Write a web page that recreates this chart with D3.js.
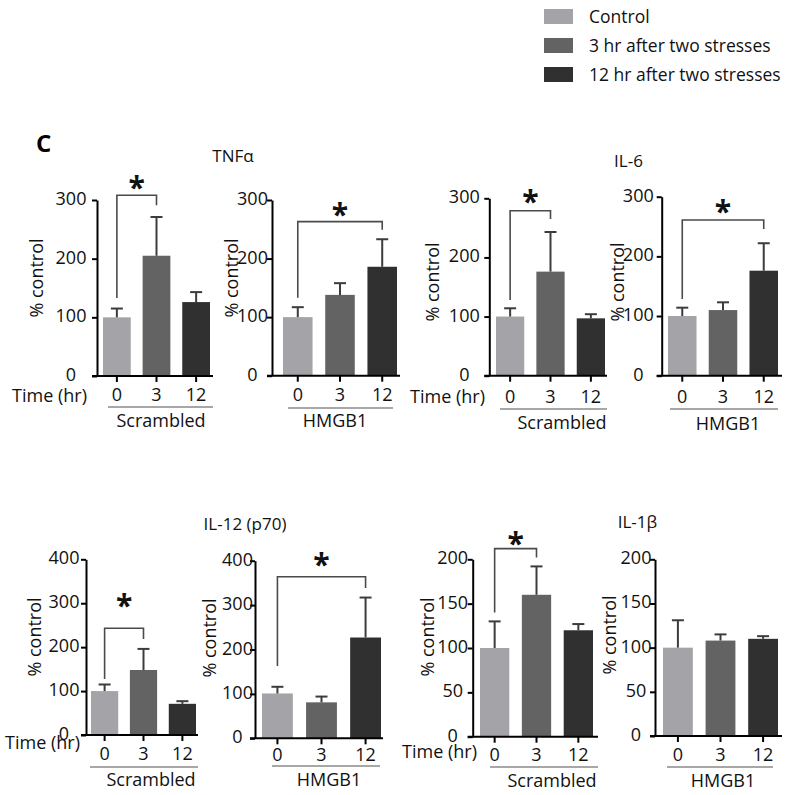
<!DOCTYPE html>
<html>
<head>
<meta charset="utf-8">
<script src="https://cdn.jsdelivr.net/npm/d3@7"></script>
<style>
  html, body { margin: 0; padding: 0; background: #fff; }
  svg { display: block; font-family: "Open Sans", "Liberation Sans", sans-serif; }
</style>
</head>
<body>
<svg id="chart" width="800" height="795"></svg>
<script>
// ---------- DATA ----------
const times = ["0", "3", "12"];
const groups = ["Scrambled", "HMGB1"];
const cytokines = ["TNFα", "IL-6", "IL-12 (p70)", "IL-1β"];
const legendLabels = ["Control", "3 hr after two stresses", "12 hr after two stresses"];

const tnfScrambled = [100, 205, 126];
const tnfScrambledErr = [15, 66, 17];
const tnfHmgb1 = [100, 138, 186];
const tnfHmgb1Err = [17, 20, 47];

const il6Scrambled = [100, 176, 97];
const il6ScrambledErr = [14, 67, 7];
const il6Hmgb1 = [100, 110, 176];
const il6Hmgb1Err = [14, 13, 46];

const il12Scrambled = [100, 148, 71];
const il12ScrambledErr = [15, 48, 6];
const il12Hmgb1 = [101, 81, 227];
const il12Hmgb1Err = [15, 13, 90];

const il1bScrambled = [100, 160, 120];
const il1bScrambledErr = [30, 32, 7];
const il1bHmgb1 = [100, 108, 110];
const il1bHmgb1Err = [31, 7, 3];

const tnfTicks = [0, 100, 200, 300];
const il6Ticks = [0, 100, 200, 300];
const il12Ticks = [0, 100, 200, 300, 400];
const il1bTicks = [0, 50, 100, 150, 200];

// significance comparisons: [from index, to index] or null
const tnfSig = [[0, 1], [0, 2]];
const il6Sig = [[0, 1], [0, 2]];
const il12Sig = [[0, 1], [0, 2]];
const il1bSig = [[0, 1], null];

// ---------- STYLE / LAYOUT ----------
const colors = ["#a4a4a8", "#636363", "#303030"];
const svg = d3.select("#chart");
const FONT = 18;

const panels = [
  { vals: tnfScrambled, err: tnfScrambledErr, ticks: tnfTicks, sig: tnfSig[0], group: 0,
    ax: 97, yTop: 200, y0: 376, r0: 103, r1: 210, xEnd: 213, tlo: 26,
    yl: [37, 278], time: [87, 396], tickY: 395, ul: [407, 108, 213], gl: [161, 421],
    br: [308, 133, 291], astOff: 12 },
  { vals: tnfHmgb1, err: tnfHmgb1Err, ticks: tnfTicks, sig: tnfSig[1], group: 1,
    ax: 272, yTop: 200, y0: 375.7, r0: 283, r1: 397, xEnd: 400, tlo: 19.5,
    yl: [232, 278], time: null, tickY: 395, ul: [408, 288, 393], gl: [335, 421],
    br: [263, 133, 249], astOff: 12 },
  { vals: il6Scrambled, err: il6ScrambledErr, ticks: il6Ticks, sig: il6Sig[0], group: 0,
    ax: 489.3, yTop: 198.3, y0: 375.7, r0: 496, r1: 605, xEnd: 607, tlo: 25,
    yl: [433, 282], time: [485, 397], tickY: 397, ul: [409, 500, 607], gl: [562, 423],
    br: [279, 128, 265], astOff: 14 },
  { vals: il6Hmgb1, err: il6Hmgb1Err, ticks: il6Ticks, sig: il6Sig[1], group: 1,
    ax: 661.7, yTop: 196.7, y0: 375.7, r0: 668, r1: 778, xEnd: 782, tlo: 23.4,
    yl: [618, 282], time: null, tickY: 397, ul: [409, 670, 778], gl: [728, 424],
    br: [261, 128.5, 246], astOff: 13 },
  { vals: il12Scrambled, err: il12ScrambledErr, ticks: il12Ticks, sig: il12Sig[0], group: 0,
    ax: 86, yTop: 559.3, y0: 735, r0: 91, r1: 196, xEnd: 198, tlo: 22,
    yl: [35, 637], time: [80, 743], tickY: 753.5, ul: [767, 90, 198], gl: [151, 780],
    br: [243, 127.5, 218.5], astOff: 27 },
  { vals: il12Hmgb1, err: il12Hmgb1Err, ticks: il12Ticks, sig: il12Sig[1], group: 1,
    ax: 255, yTop: 560.7, y0: 738.3, r0: 262, r1: 381, xEnd: 383, tlo: 17.5,
    yl: [210, 638], time: null, tickY: 755, ul: [766, 272, 380], gl: [329, 780],
    br: [364, 163, 338.6], astOff: 17 },
  { vals: il1bScrambled, err: il1bScrambledErr, ticks: il1bTicks, sig: il1bSig[0], group: 0,
    ax: 472.7, yTop: 559.3, y0: 736.7, r0: 480, r1: 593, xEnd: 598, tlo: 20,
    yl: [428, 637], time: [477, 752], tickY: 755, ul: [767, 490, 598], gl: [552, 781],
    br: [212, 140, 202], astOff: 10 },
  { vals: il1bHmgb1, err: il1bHmgb1Err, ticks: il1bTicks, sig: il1bSig[1], group: 1,
    ax: 655, yTop: 559.3, y0: 736, r0: 663, r1: 778, xEnd: 782, tlo: 19,
    yl: [610, 635], time: null, tickY: 755, ul: [767, 667, 773], gl: [723, 781],
    br: null, astOff: 0 }
];

const titles = [
  { text: cytokines[0], x: 233, y: 156 },
  { text: cytokines[1], x: 628.5, y: 161 },
  { text: cytokines[2], x: 245, y: 524 },
  { text: cytokines[3], x: 637.5, y: 522 }
];

// ---------- LEGEND ----------
const legend = svg.append("g");
legendLabels.forEach((lab, i) => {
  const cy = 16.5 + i * 29;
  legend.append("rect").attr("x", 544).attr("y", cy - 7.5).attr("width", 29).attr("height", 15)
    .attr("fill", colors[i]);
  legend.append("text").attr("x", 589).attr("y", cy + 6).attr("font-size", 17.5)
    .attr("fill", "#111").text(lab);
});

// Panel letter
svg.append("text").attr("x", 36).attr("y", 152).attr("font-size", 24).attr("font-weight", "bold")
  .attr("fill", "#000").text("C");

// Titles
titles.forEach(t => {
  svg.append("text").attr("x", t.x).attr("y", t.y + 6).attr("text-anchor", "middle")
    .attr("font-size", 17).attr("fill", "#111").text(t.text);
});

// ---------- PANELS ----------
panels.forEach(p => {
  const g = svg.append("g");
  const ymax = p.ticks[p.ticks.length - 1];
  const y = d3.scaleLinear().domain([0, ymax]).range([p.y0, p.yTop]);
  const x = d3.scaleBand().domain(times).range([p.r0, p.r1]).paddingInner(0.3).paddingOuter(0);
  const cx = i => x(times[i]) + x.bandwidth() / 2;

  // bars
  g.selectAll("rect.bar").data(p.vals).join("rect")
    .attr("class", "bar")
    .attr("x", (d, i) => x(times[i]))
    .attr("width", x.bandwidth())
    .attr("y", d => y(d))
    .attr("height", d => p.y0 - y(d))
    .attr("fill", (d, i) => colors[i]);

  // error bars (upper only)
  p.vals.forEach((v, i) => {
    const top = y(v + p.err[i]);
    g.append("line").attr("x1", cx(i)).attr("x2", cx(i)).attr("y1", y(v)).attr("y2", top)
      .attr("stroke", "#3c3c3c").attr("stroke-width", 2);
    g.append("line").attr("x1", cx(i) - 6).attr("x2", cx(i) + 6).attr("y1", top).attr("y2", top)
      .attr("stroke", "#3c3c3c").attr("stroke-width", 2);
  });

  // y axis
  const yAxis = d3.axisLeft(y).tickValues(p.ticks).tickSize(5).tickSizeOuter(0).tickFormat(d3.format("d"));
  const yg = g.append("g").attr("transform", `translate(${p.ax},0)`).call(yAxis);
  yg.select(".domain").attr("stroke", "#000").attr("stroke-width", 2);
  yg.selectAll(".tick line").attr("stroke", "#000").attr("stroke-width", 2);
  yg.selectAll(".tick text").attr("x", -p.tlo).attr("dy", null).attr("y", 4.5)
    .attr("text-anchor", "middle").attr("font-size", FONT).attr("fill", "#111")
    .attr("font-family", "Open Sans, Liberation Sans, sans-serif");

  // x axis
  const xAxis = d3.axisBottom(x).tickSize(6).tickSizeOuter(0);
  const xg = g.append("g").attr("transform", `translate(0,${p.y0})`).call(xAxis);
  xg.select(".domain").remove();
  xg.selectAll(".tick line").attr("stroke", "#000").attr("stroke-width", 2);
  xg.selectAll(".tick text").attr("dy", null).attr("y", p.tickY - p.y0 + 6.4)
    .attr("font-size", FONT).attr("fill", "#111")
    .attr("font-family", "Open Sans, Liberation Sans, sans-serif");
  g.append("line").attr("x1", p.ax - 5).attr("x2", p.xEnd).attr("y1", p.y0).attr("y2", p.y0)
    .attr("stroke", "#000").attr("stroke-width", 2);

  // y label
  g.append("text").attr("transform", `translate(${p.yl[0] + 6.4},${p.yl[1]}) rotate(-90)`)
    .attr("text-anchor", "middle").attr("font-size", FONT).attr("fill", "#111").text("% control");

  // Time label
  if (p.time) {
    g.append("text").attr("x", p.time[0]).attr("y", p.time[1] + 6.4).attr("text-anchor", "end")
      .attr("font-size", FONT).attr("fill", "#111").text("Time (hr)");
  }

  // group underline + label
  g.append("line").attr("x1", p.ul[1]).attr("x2", p.ul[2]).attr("y1", p.ul[0]).attr("y2", p.ul[0])
    .attr("stroke", "#8a8a8a").attr("stroke-width", 1.5);
  g.append("text").attr("x", p.gl[0]).attr("y", p.gl[1] + 6.4).attr("text-anchor", "middle")
    .attr("font-size", FONT).attr("fill", "#111").text(groups[p.group]);

  // significance bracket
  if (p.sig && p.br) {
    const [a, b] = p.sig;
    const xa = cx(a), xb = cx(b);
    const yt = y(p.br[0]);
    g.append("path")
      .attr("d", `M${xa},${y(p.br[1])}V${yt}H${xb}V${y(p.br[2])}`)
      .attr("fill", "none").attr("stroke", "#4a4a4a").attr("stroke-width", 1.6);
    const ay = yt - p.astOff;
    g.append("text").attr("x", (xa + xb) / 2).attr("y", ay + 15).attr("text-anchor", "middle")
      .attr("font-size", 30).attr("font-weight", "bold").attr("fill", "#111").text("*");
  }
});
</script>
</body>
</html>
